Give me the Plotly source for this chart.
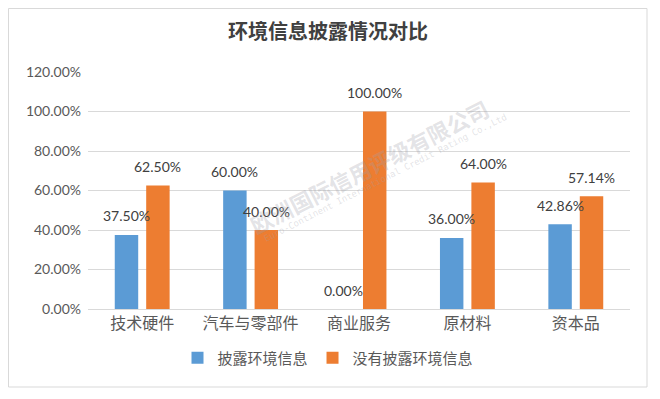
import plotly.graph_objects as go

categories = ["技术硬件", "汽车与零部件", "商业服务", "原材料", "资本品"]
disclosed = [0.375, 0.60, 0.0, 0.36, 0.4286]
not_disclosed = [0.625, 0.40, 1.00, 0.64, 0.5714]
series_names = ["披露环境信息", "没有披露环境信息"]
title_text = "环境信息披露情况对比"
watermark_cn = "欧洲国际信用评级有限公司"
watermark_en = "Euro-Continent International Credit Rating Co.,Ltd"

NUMFONT = "Lato, Noto Sans CJK SC, sans-serif"
CJK = "Noto Sans CJK SC, sans-serif"
colors = ["#5B9BD5", "#ED7D31"]

# plot area in figure pixels
L, R, T, B = 80, 38, 64, 98
W, H = 660, 399
PW, PH = W - L - R, H - T - B

fig = go.Figure()
for name, vals, col in zip(series_names, [disclosed, not_disclosed], colors):
    fig.add_trace(go.Bar(x=categories, y=vals, name=name, marker_color=col,
                         marker_line_width=0))

bargap, bargroupgap = 0.42, 0.254
slot = PW / len(categories) * (1 - bargap) / 2
for k, vals in enumerate([disclosed, not_disclosed]):
    shift = (k - 0.5) * slot
    for c, v in zip(categories, vals):
        fig.add_annotation(x=c, y=v, text=f"{v:.2%}", showarrow=False,
                           xshift=shift, yshift=19, yanchor="middle",
                           font=dict(size=14, color="#404040", family=NUMFONT))

fig.update_layout(
    width=W, height=H,
    margin=dict(l=L, r=R, t=T, b=B, autoexpand=False),
    paper_bgcolor="white", plot_bgcolor="white",
    barmode="group", bargap=bargap, bargroupgap=bargroupgap,
    font=dict(family=NUMFONT, color="#595959", size=14),
    title=dict(text=title_text, x=(320) / W, xanchor="center", y=1 - 24 / H, yanchor="middle",
               font=dict(size=20, color="#404040", family=CJK, weight="bold")),
    legend=dict(orientation="h", x=(320 - L) / PW, xanchor="center",
                y=(H - B - 350) / PH, yanchor="middle",
                font=dict(size=15, color="#595959", family=CJK),
                traceorder="normal", itemwidth=30),
    showlegend=True,
)
fig.update_yaxes(range=[0, 1.2], dtick=0.2, tickformat=".2%", showgrid=True,
                 gridcolor="#D9D9D9", gridwidth=1, zeroline=False, showline=False,
                 ticks="", ticklabelstandoff=6,
                 tickfont=dict(size=14, color="#595959", family=NUMFONT))
fig.update_xaxes(showline=True, linecolor="#D9D9D9", ticks="", tickangle=0,
                 tickfont=dict(size=16, color="#595959", family=CJK))

# outer chart border
fig.add_shape(type="rect", xref="paper", yref="paper",
              x0=(0.5 - L) / PW, x1=(639 - L) / PW,
              y0=(H - B - 379) / PH, y1=(H - B - 0.5) / PH,
              line=dict(color="#D9D9D9", width=1), fillcolor="rgba(0,0,0,0)", layer="below")

# faint watermark
fig.add_annotation(text="<b>" + watermark_cn + "</b>", xref="paper", yref="paper",
                   x=(361 - L) / PW, y=(H - B - 158) / PH, showarrow=False, textangle=-27,
                   font=dict(size=22, color="rgba(160,160,170,0.30)", family=CJK))
fig.add_annotation(text=watermark_en, xref="paper", yref="paper",
                   x=(377 - L) / PW, y=(H - B - 170) / PH, showarrow=False, textangle=-27,
                   font=dict(size=9, color="rgba(160,160,170,0.30)", family="DejaVu Sans Mono"))

fig.write_html("out.html")
